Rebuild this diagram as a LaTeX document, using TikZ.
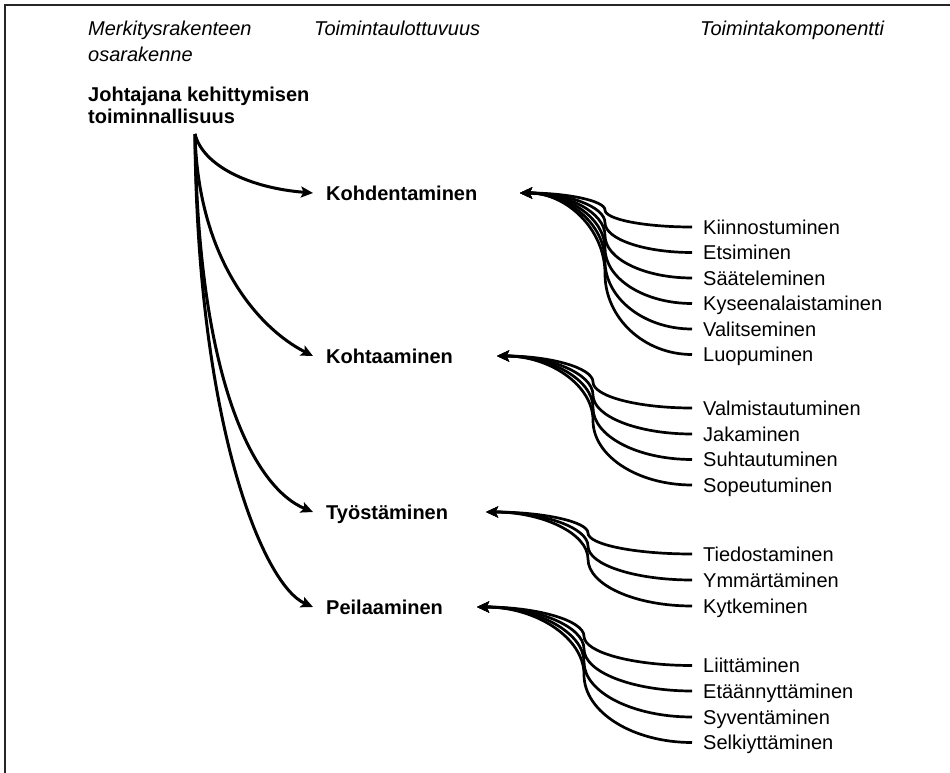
\documentclass[tikz,border=0pt]{standalone}
\usepackage{fontspec}
\setmainfont{Liberation Sans}
\usetikzlibrary{arrows.meta}
\newcommand\compbranch[6]{% #1 comp node, #2 comp y, #3 tip coord, #4 tip x, #5 tip y, #6 mid x
  \pgfmathsetmacro\bym{(#2+#5)/2}%
  \pgfmathsetmacro\bdyA{0.55*(#2-\bym)}%
  \pgfmathsetmacro\bdxA{0.55*(692-#6)}%
  \pgfmathsetmacro\bdxB{0.55*(#6-#4)}%
  \draw[compline] (#1.west) .. controls +(-\bdxA,0) and +(0,\bdyA) .. (#6,\bym) .. controls +(0,-\bdyA) and +(\bdxB,0) .. (#3);%
}
\begin{document}
\begin{tikzpicture}[x=1pt,y=-1pt,
  hdr/.style={font=\fontsize{20}{25.7}\selectfont\itshape, inner sep=0pt, align=left},
  rootlbl/.style={font=\fontsize{20}{22.3}\selectfont\bfseries, inner sep=0pt, align=left},
  lvl/.style={font=\fontsize{20}{24}\selectfont\bfseries, anchor=west, inner xsep=13pt, inner ysep=0pt, text height=14.3pt, text depth=0pt},
  comp/.style={font=\fontsize{20}{24}\selectfont, anchor=west, inner xsep=11pt, inner ysep=0pt, text height=14.3pt, text depth=0pt},
  tiparrow/.style={-{Stealth[length=12pt,width=11pt,inset=2.5pt]}},
  rootline/.style={line width=3pt, tiparrow},
  compline/.style={line width=2.7pt, tiparrow},
  frame/.style={line width=2pt, draw=black!85}]
\useasboundingbox (0,0) rectangle (950,773);
\draw[frame] (5,780) -- (5,5) -- (960,5);
% headers
\node[hdr, anchor=base west] (h1) at (88,61.7) {Merkitysrakenteen\\osarakenne};
\node[hdr, anchor=base west] (h2) at (314,36) {Toimintaulottuvuus};
\node[hdr, anchor=base west] (h3) at (700,36) {Toimintakomponentti};
% root
\node[rootlbl, anchor=base west] (root) at (88,124) {Johtajana kehittymisen\\toiminnallisuus};
\coordinate (r) at (195,134);
% level 2
\node[lvl] (k1) at (313,193) {Kohdentaminen};
\node[lvl] (k2) at (313,356) {Kohtaaminen};
\node[lvl] (k3) at (313,512) {Työstäminen};
\node[lvl] (k4) at (313,607) {Peilaaminen};
\coordinate (t1) at (520,193);
\coordinate (t2) at (497,356);
\coordinate (t3) at (486,512);
\coordinate (t4) at (477,607);
% root connectors
\draw[rootline] (r) .. controls +(8,32) and +(-63,-5) .. (k1.west);
\draw[rootline] (r) .. controls +(3,125) and +(-55,-28) .. (k2.west);
\draw[rootline] (r) .. controls +(3,250) and +(-58,-24) .. (k3.west);
\draw[rootline] (r) .. controls +(2,290) and +(-50,-22) .. (k4.west);
% components group 1
\node[comp] (c11) at (692,227) {Kiinnostuminen};
\node[comp] (c12) at (692,252.5) {Etsiminen};
\node[comp] (c13) at (692,278) {Sääteleminen};
\node[comp] (c14) at (692,303.5) {Kyseenalaistaminen};
\node[comp] (c15) at (692,329) {Valitseminen};
\node[comp] (c16) at (692,354.5) {Luopuminen};
% group 2
\node[comp] (c21) at (692,408) {Valmistautuminen};
\node[comp] (c22) at (692,434) {Jakaminen};
\node[comp] (c23) at (692,459.5) {Suhtautuminen};
\node[comp] (c24) at (692,485) {Sopeutuminen};
% group 3
\node[comp] (c31) at (692,554) {Tiedostaminen};
\node[comp] (c32) at (692,580) {Ymmärtäminen};
\node[comp] (c33) at (692,606) {Kytkeminen};
% group 4
\node[comp] (c41) at (692,665.5) {Liittäminen};
\node[comp] (c42) at (692,691) {Etäännyttäminen};
\node[comp] (c43) at (692,717) {Syventäminen};
\node[comp] (c44) at (692,742.5) {Selkiyttäminen};
% component connectors
\compbranch{c11}{227}{t1}{520}{193}{605}
\compbranch{c12}{252.5}{t1}{520}{193}{605}
\compbranch{c13}{278}{t1}{520}{193}{605}
\compbranch{c14}{303.5}{t1}{520}{193}{605}
\compbranch{c15}{329}{t1}{520}{193}{605}
\compbranch{c16}{354.5}{t1}{520}{193}{605}
\compbranch{c21}{408}{t2}{497}{356}{593}
\compbranch{c22}{434}{t2}{497}{356}{593}
\compbranch{c23}{459.5}{t2}{497}{356}{593}
\compbranch{c24}{485}{t2}{497}{356}{593}
\compbranch{c31}{554}{t3}{486}{512}{588}
\compbranch{c32}{580}{t3}{486}{512}{588}
\compbranch{c33}{606}{t3}{486}{512}{588}
\compbranch{c41}{665.5}{t4}{477}{607}{584}
\compbranch{c42}{691}{t4}{477}{607}{584}
\compbranch{c43}{717}{t4}{477}{607}{584}
\compbranch{c44}{742.5}{t4}{477}{607}{584}
\end{tikzpicture}
\end{document}
